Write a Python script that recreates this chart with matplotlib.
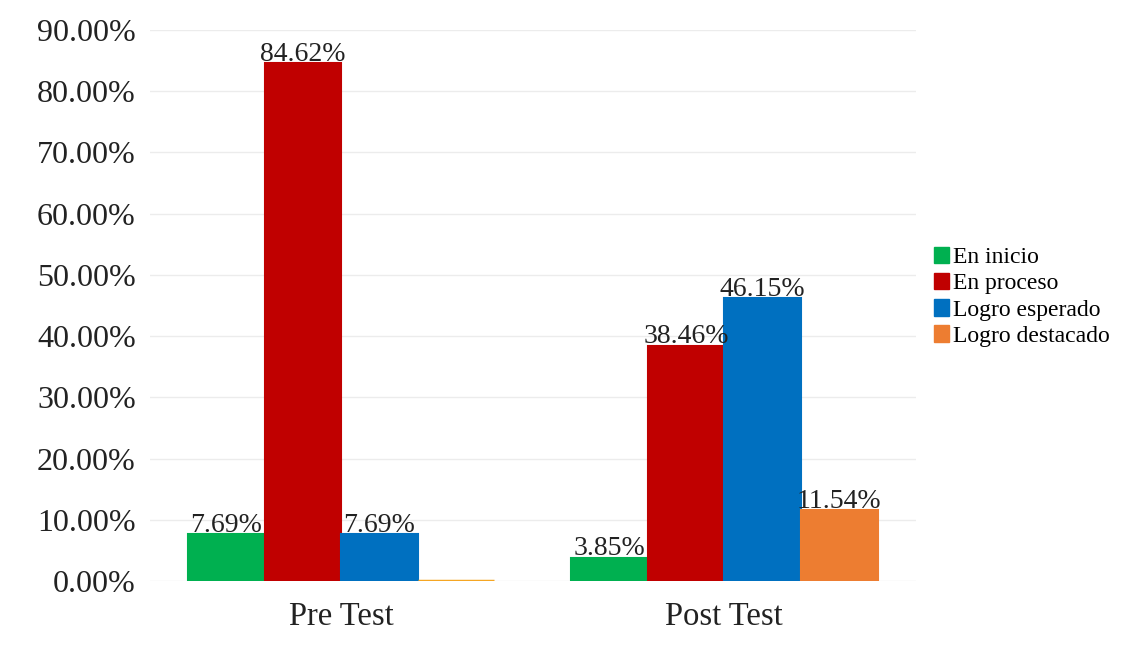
import numpy as np
import matplotlib
matplotlib.use("Agg")
from matplotlib import pyplot as plt
from matplotlib.patches import Patch

# data
grupos = ["Pre Test", "Post Test"]
niveles = ["En inicio", "En proceso", "Logro esperado", "Logro destacado"]
en_inicio = [7.69, 3.85]
en_proceso = [84.62, 38.46]
logro_esperado = [7.69, 46.15]
logro_destacado = [0.0, 11.54]
y_ticks = [0, 10, 20, 30, 40, 50, 60, 70, 80, 90]

series = [en_inicio, en_proceso, logro_esperado, logro_destacado]
colores = ["#00B050", "#C00000", "#0070C0", "#ED7D31"]

plt.rcParams['font.family'] = ['Liberation Serif', 'DejaVu Serif']

fig = plt.figure(figsize=(11.42, 6.5), dpi=100)
ax = fig.add_axes([0.131, 0.106, 0.671, 0.848])

x = np.arange(len(grupos))
w = 0.2
for i, (vals, col) in enumerate(zip(series, colores)):
    pos = x + (i - 1.5) * w
    bars = ax.bar(pos, vals, width=w, color=col, zorder=3,
                  edgecolor=col, linewidth=1.5)
    for b, v in zip(bars, vals):
        if v == 0:
            # zero bar shows as a thin line on the baseline
            b.set_edgecolor('#F5A623')
            b.set_linewidth(2.5)
            continue
        ax.text(b.get_x() + b.get_width() / 2, v - 0.6, "%.2f%%" % v,
                ha='center', va='bottom', fontsize=20, color='#222222', zorder=4)

ax.set_xlim(-0.5, 1.5)
ax.set_ylim(0, 90)
ax.set_yticks(y_ticks)
ax.set_yticklabels(["%.2f%%" % t for t in y_ticks], fontsize=23, color='#222222')
ax.set_xticks(x)
ax.set_xticklabels(grupos, fontsize=23.5, color='#222222')
ax.tick_params(axis='both', length=0)
ax.tick_params(axis='y', pad=10)
ax.tick_params(axis='x', pad=15)
ax.grid(axis='y', color='#ececec', linewidth=1, zorder=0)
for s in ax.spines.values():
    s.set_visible(False)

handles = [Patch(facecolor=c, edgecolor=c) for c in colores]
fig.legend(handles, niveles, loc='upper left', bbox_to_anchor=(0.810, 0.635),
           frameon=False, fontsize=17, handlelength=0.6, handleheight=0.7,
           handletextpad=0.2, labelspacing=0.2, borderaxespad=0)

fig.savefig("out.png", dpi=100)
